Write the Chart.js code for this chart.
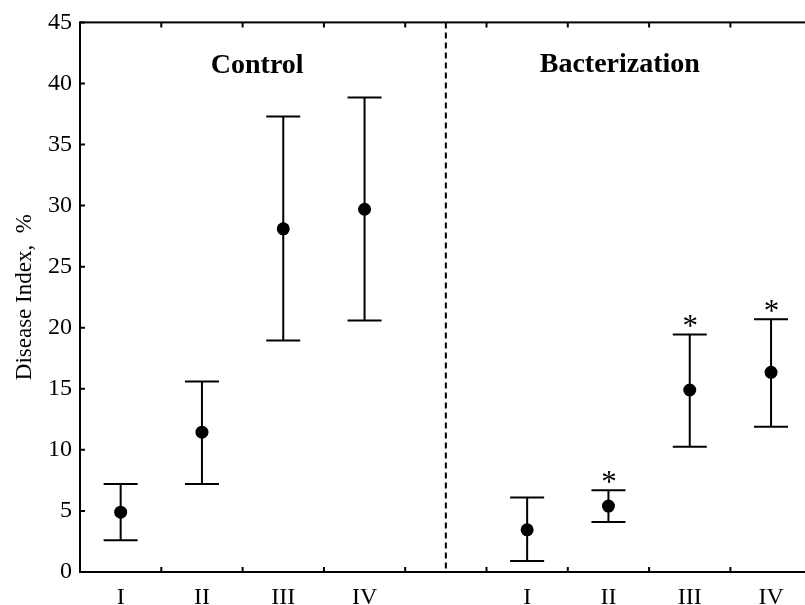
<!DOCTYPE html>
<html>
<head>
<meta charset="utf-8">
<script src="https://cdn.jsdelivr.net/npm/chart.js@4.4.0/dist/chart.umd.min.js"></script>
<style>
  html, body { margin: 0; padding: 0; overflow: hidden; background: #fff; }
</style>
</head>
<body>
<canvas id="diseaseChart" width="820" height="605"></canvas>
<script>
// Disease index (%) per stage, mean with lower / upper bounds
const stages = ['I', 'II', 'III', 'IV'];
const groupTitles = ['Control', 'Bacterization'];

const controlMean = [4.9, 11.45, 28.1, 29.7];
const controlLow = [2.6, 7.2, 18.95, 20.6];
const controlHigh = [7.2, 15.6, 37.3, 38.85];

const bactMean = [3.45, 5.4, 14.9, 16.35];
const bactLow = [0.9, 4.1, 10.25, 11.9];
const bactHigh = [6.1, 6.7, 19.45, 20.7];
const bactSignificant = [false, true, true, true];

const yTicks = [0, 5, 10, 15, 20, 25, 30, 35, 40, 45];

// combined category axis: 4 control stages, an empty separator slot, 4 bacterization stages
const labels = [...stages, '', ...stages];
const means = [...controlMean, null, ...bactMean];
const lows = [...controlLow, null, ...bactLow];
const highs = [...controlHigh, null, ...bactHigh];
const stars = [false, false, false, false, false, ...bactSignificant];

Chart.defaults.font.family = "'Liberation Serif', 'Times New Roman', serif";
Chart.defaults.color = '#000';

const framePlugin = {
  id: 'frame',
  beforeDatasetsDraw(chart) {
    const { ctx, chartArea, scales } = chart;
    const x = scales.x, y = scales.y;
    ctx.save();
    ctx.strokeStyle = '#000';
    ctx.lineWidth = 2;

    // error bars
    const cap = 17;
    means.forEach((m, i) => {
      if (m === null) return;
      const px = x.getPixelForValue(i);
      const lo = y.getPixelForValue(lows[i]);
      const hi = y.getPixelForValue(highs[i]);
      ctx.beginPath();
      ctx.moveTo(px, lo); ctx.lineTo(px, hi);
      ctx.moveTo(px - cap, lo); ctx.lineTo(px + cap, lo);
      ctx.moveTo(px - cap, hi); ctx.lineTo(px + cap, hi);
      ctx.stroke();
    });

    // dashed separator in the empty slot
    const sep = x.getPixelForValue(4);
    ctx.setLineDash([6, 4]);
    ctx.beginPath();
    ctx.moveTo(sep, chartArea.top);
    ctx.lineTo(sep, chartArea.bottom);
    ctx.stroke();
    ctx.setLineDash([]);
    ctx.restore();
  },
  afterDraw(chart) {
    const { ctx, chartArea, scales } = chart;
    const x = scales.x, y = scales.y;
    const { left, right, top, bottom } = chartArea;
    ctx.save();
    ctx.strokeStyle = '#000';
    ctx.lineWidth = 2;
    ctx.strokeRect(left, top, right - left, bottom - top);

    // inward tick marks
    const tl = 5;
    ctx.beginPath();
    for (let i = 0; i < labels.length - 1; i++) {
      const bx = (x.getPixelForValue(i) + x.getPixelForValue(i + 1)) / 2;
      ctx.moveTo(bx, bottom); ctx.lineTo(bx, bottom - tl);
      ctx.moveTo(bx, top); ctx.lineTo(bx, top + tl);
    }
    yTicks.forEach(v => {
      const py = y.getPixelForValue(v);
      ctx.moveTo(left, py); ctx.lineTo(left + tl, py);
      ctx.moveTo(right, py); ctx.lineTo(right - tl, py);
    });
    ctx.stroke();

    // group titles
    ctx.fillStyle = '#000';
    ctx.font = "bold 28px 'Liberation Serif', serif";
    ctx.textAlign = 'center';
    ctx.textBaseline = 'alphabetic';
    const slot = x.getPixelForValue(1) - x.getPixelForValue(0);
    const x0 = x.getPixelForValue(0);
    ctx.fillText(groupTitles[0], x0 + 1.68 * slot, top + 51);
    ctx.fillText(groupTitles[1], x0 + 6.14 * slot, top + 50);

    // significance marks
    ctx.font = "31px 'Liberation Serif', serif";
    stars.forEach((s, i) => {
      if (!s) return;
      ctx.fillText('*', x.getPixelForValue(i) + 0.5, y.getPixelForValue(highs[i]) + 2);
    });
    ctx.restore();
  }
};

new Chart(document.getElementById('diseaseChart'), {
  type: 'line',
  data: {
    labels: labels,
    datasets: [{
      data: means,
      showLine: false,
      pointRadius: 6.5,
      pointHoverRadius: 6.5,
      pointBackgroundColor: '#000',
      pointBorderColor: '#000',
      pointBorderWidth: 0
    }]
  },
  options: {
    responsive: false,
    animation: false,
    events: [],
    layout: { padding: { top: 19, right: 8.3, left: 0, bottom: 0 } },
    plugins: {
      legend: { display: false },
      tooltip: { enabled: false }
    },
    scales: {
      x: {
        type: 'category',
        offset: true,
        grid: { display: false, drawTicks: false },
        border: { display: false },
        ticks: { font: { size: 24 }, padding: 11, maxRotation: 0, autoSkip: false },
        afterFit(scale) { scale.height = 33; }
      },
      y: {
        min: 0,
        max: 45,
        grid: { display: false, drawTicks: false },
        border: { display: false },
        afterBuildTicks(scale) { scale.ticks = yTicks.map(v => ({ value: v })); },
        ticks: { font: { size: 24 }, padding: 8 },
        title: {
          display: true,
          text: 'Disease Index,  %',
          font: { size: 23 },
          padding: { top: 11, bottom: 0 }
        },
        afterFit(scale) { scale.width = 80; }
      }
    }
  },
  plugins: [framePlugin]
});
</script>
</body>
</html>
